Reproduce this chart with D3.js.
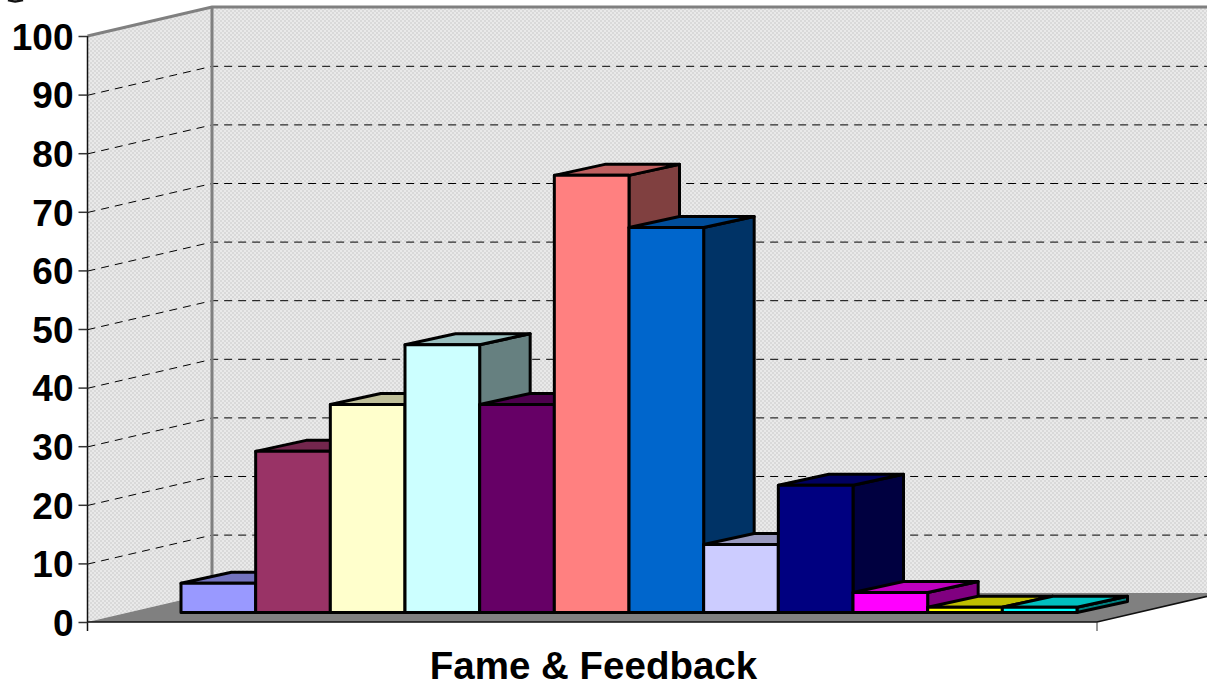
<!DOCTYPE html>
<html>
<head>
<meta charset="utf-8">
<title>Fame &amp; Feedback</title>
<script src="https://cdn.jsdelivr.net/npm/d3@7"></script>
<style>
html,body{margin:0;padding:0;background:#fff;overflow:hidden}
svg{display:block}
text{font-family:"Liberation Sans",Arial,sans-serif;font-weight:700;fill:#000}
</style>
</head>
<body>
<div id="chart"></div>
<script>
// Chart content
const categoryLabel = "Fame & Feedback";
const segments = ["A","B","C","D","E","F","G","H","I","J","K","L"];
const values = [5, 27.5, 35.5, 45.7, 35.5, 74.6, 65.7, 11.6, 21.7, 3.4, 0.9, 0.9];
const faceColors = ["#9999FF","#993366","#FFFFCC","#CCFFFF","#660066","#FF8080","#0066CC","#CCCCFF","#000080","#FF00FF","#FFFF00","#00FFFF"];
const tickValues = [0,10,20,30,40,50,60,70,80,90,100];

// Oblique projection of the box
const width = 1207, height = 683;
const plot = {left: 87.5, right: 1097, floorY: 622, topY: 36};
const wallShift = {dx: 124.5, dy: -29};
const barBaseY = 612.5;
const barShift = {dx: 50.5, dy: -11};

const svg = d3.select("#chart").append("svg").attr("width", width).attr("height", height);

const y = d3.scaleLinear().domain([0, 100]).range([plot.floorY, plot.topY]);
const barHeight = d3.scaleLinear().domain([0, 100]).range([0, plot.floorY - plot.topY]);
const x = d3.scaleBand().domain(segments).range([181, 1077]).padding(0);

// Dithered wall fill
const pattern = svg.append("defs").append("pattern")
  .attr("id", "wallDither").attr("width", 4).attr("height", 4)
  .attr("patternUnits", "userSpaceOnUse");
pattern.append("rect").attr("width", 4).attr("height", 4).attr("fill", "#e9e9e9");
pattern.selectAll("rect.dot").data([[0,0],[2,2]]).join("rect")
  .attr("class", "dot").attr("x", d => d[0]).attr("y", d => d[1])
  .attr("width", 2).attr("height", 2).attr("fill", "#d9d9d9");

const poly = pts => pts.map(p => p.join(",")).join(" ");
const backX = plot.left + wallShift.dx;
const backRight = plot.right + wallShift.dx;
const backY = v => y(v) + wallShift.dy;

// Walls
svg.append("polygon").attr("fill", "url(#wallDither)")
  .attr("points", poly([[plot.left, y(0)], [plot.left, y(100)], [backX, backY(100)], [backX, backY(0)]]));
svg.append("polygon").attr("fill", "url(#wallDither)")
  .attr("points", poly([[backX, backY(100)], [backRight, backY(100)], [backRight, backY(0)], [backX, backY(0)]]));

// Floor
svg.append("polygon").attr("fill", "#808080")
  .attr("points", poly([[plot.left, y(0)], [backX, backY(0)], [backRight, backY(0)], [plot.right, y(0)]]));

// Dashed gridlines running along both walls
const gridTicks = tickValues.filter(v => v > 0 && v < 100);
svg.append("g").attr("transform", "translate(0,0.7)").selectAll("polyline").data(gridTicks).join("polyline")
  .attr("fill", "none").attr("stroke", "#000").attr("stroke-width", 1)
  .attr("stroke-dasharray", "8,6")
  .attr("points", v => poly([[plot.left, y(v)], [backX, backY(v)], [backRight, backY(v)]]));

// Wall outline
svg.append("polyline").attr("fill", "none").attr("stroke", "#808080").attr("stroke-width", 3)
  .attr("points", poly([[plot.left, y(100)], [backX, backY(100)], [backRight, backY(100)]]));
svg.append("line").attr("stroke", "#808080").attr("stroke-width", 3)
  .attr("x1", backX).attr("x2", backX).attr("y1", backY(100)).attr("y2", backY(0));

// Front edges of the floor and the value axis
svg.append("polyline").attr("fill", "none").attr("stroke", "#111").attr("stroke-width", 1.5)
  .attr("points", poly([[plot.left, y(0)], [plot.right, y(0)], [backRight, backY(0)]]));
svg.append("line").attr("stroke", "#111").attr("stroke-width", 1.5)
  .attr("x1", plot.left).attr("x2", plot.left).attr("y1", y(100)).attr("y2", y(0) + 9);
svg.append("line").attr("stroke", "#333").attr("stroke-width", 1)
  .attr("x1", plot.right).attr("x2", plot.right).attr("y1", y(0)).attr("y2", y(0) + 9);

// Value axis ticks and labels
const axisG = svg.append("g").attr("transform", `translate(${plot.left},0)`)
  .call(d3.axisLeft(y).tickValues(tickValues).tickSize(9).tickPadding(5).tickFormat(d3.format("d")));
axisG.select(".domain").remove();
axisG.selectAll(".tick line").attr("stroke", "#333").attr("stroke-width", 1.5);
axisG.selectAll(".tick text").attr("font-size", 37).attr("font-family", '"Liberation Sans",Arial,sans-serif')
  .attr("font-weight", 700).attr("fill", "#000").attr("transform", "translate(0,1.5)");

// Bars, left to right so each front face hides the previous side face
const shade = (c, k) => { const r = d3.rgb(c); return d3.rgb(r.r * k, r.g * k, r.b * k).formatHex(); };
const bars = svg.append("g").selectAll("g").data(segments).join("g")
  .attr("stroke", "#000").attr("stroke-width", 3).attr("stroke-linejoin", "round");
bars.each(function(seg, i) {
  const g = d3.select(this);
  const x0 = x(seg), x1 = x0 + x.bandwidth();
  const top = barBaseY - barHeight(values[i]);
  const {dx, dy} = barShift;
  g.append("polygon").attr("fill", shade(faceColors[i], 0.5))
    .attr("points", poly([[x1, barBaseY], [x1, top], [x1 + dx, top + dy], [x1 + dx, barBaseY + dy]]));
  g.append("polygon").attr("fill", shade(faceColors[i], 0.75))
    .attr("points", poly([[x0, top], [x0 + dx, top + dy], [x1 + dx, top + dy], [x1, top]]));
  g.append("rect").attr("fill", faceColors[i])
    .attr("x", x0).attr("y", top).attr("width", x1 - x0).attr("height", barBaseY - top);
});

// Category label under the floor
svg.append("text").attr("x", 593.5).attr("y", 679).attr("text-anchor", "middle")
  .attr("font-size", 38.5).text(categoryLabel);

// Lower stroke of the title cut off by the top edge
svg.append("path").attr("fill", "none").attr("stroke", "#111").attr("stroke-width", 2.5)
  .attr("d", d3.line().curve(d3.curveBasis)([[8, 0], [15, 2.2], [23, 0]]));
</script>
</body>
</html>
